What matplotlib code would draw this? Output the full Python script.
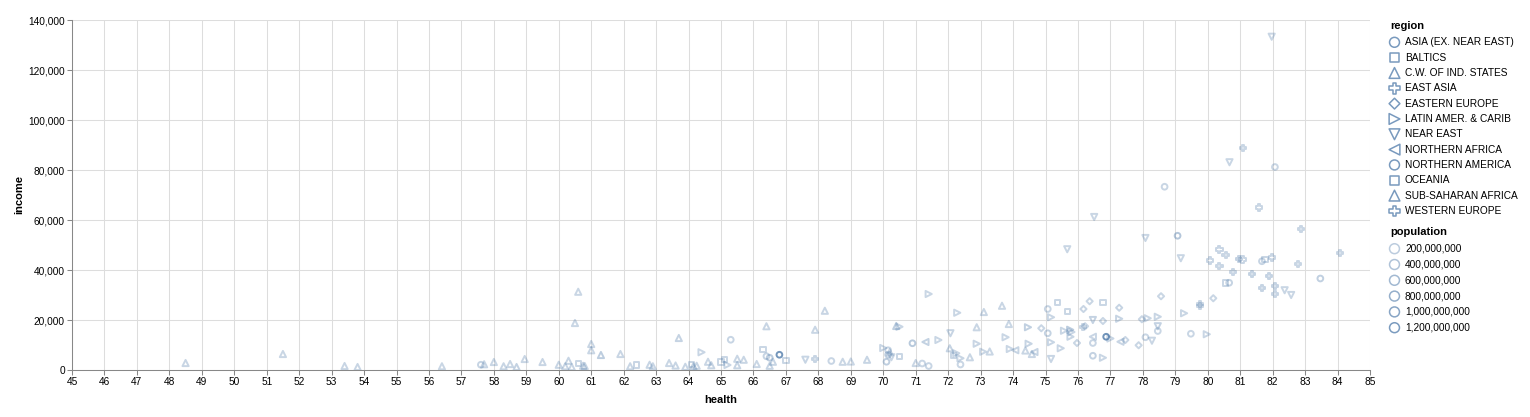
import numpy as np
import matplotlib.pyplot as plt
from matplotlib.ticker import MultipleLocator, FuncFormatter

plt.rcParams['font.family'] = ['Liberation Sans', 'DejaVu Sans']

# region names as they appear in the legend
region_names = ['ASIA (EX. NEAR EAST)', 'BALTICS', 'C.W. OF IND. STATES', 'EAST ASIA',
                'EASTERN EUROPE', 'LATIN AMER. & CARIB', 'NEAR EAST', 'NORTHERN AFRICA',
                'NORTHERN AMERICA', 'OCEANIA', 'SUB-SAHARAN AFRICA', 'WESTERN EUROPE']
region_shapes = ['o', 's', '^', 'P', 'D', '>', 'v', '<', 'o', 's', '^', 'P']
# marker area per shape, so that all shapes look about the same size
shape_size = {'o': 17, 's': 15, '^': 20, 'P': 20, 'D': 10, '>': 20, 'v': 20, '<': 20}

# short codes used in the data lists below
ASIA, BAL, CIS, EA, EE, LAT, NE, NAF, NAM, OCE, SSA, WE = region_names

# one entry per country: life expectancy, income per person, region, population (millions)
health = [48.5, 51.5, 53.4, 53.8, 56.4, 57.6, 57.7, 58.0, 58.3, 58.5,
          58.7, 58.95, 59.5, 60.0, 60.2, 60.3, 60.4, 60.5, 60.6, 60.6,
          60.75, 60.8, 61.0, 61.0, 61.3, 61.9, 62.2, 62.4, 62.8, 62.9,
          63.4, 63.6, 63.7, 63.9, 64.1, 64.15, 64.25, 64.4, 64.6, 64.7,
          65.0, 65.1, 65.2, 65.3, 65.5, 65.5, 65.7, 66.1, 66.3, 66.4,
          66.4, 66.5, 66.6, 66.5, 66.8, 67.0, 67.6, 67.9, 67.9, 68.2,
          68.4, 68.75, 69.0, 69.5, 70.0, 70.1, 70.15, 70.15, 70.2, 70.25,
          70.4, 70.5, 70.5, 70.9, 71.0, 71.2, 71.3, 71.4, 71.4, 71.7,
          72.05, 72.07, 72.17, 72.25, 72.28, 72.38, 72.38, 72.67, 72.88, 72.88,
          73.08, 73.1, 73.28, 73.66, 73.77, 73.87, 73.9, 74.07, 74.38, 74.46,
          74.48, 74.58, 74.66, 74.87, 75.07, 75.07, 75.17, 75.17, 75.17, 75.37,
          75.47, 75.57, 75.67, 75.67, 75.76, 75.77, 75.8, 75.97, 76.15, 76.17,
          76.22, 76.36, 76.46, 76.46, 76.46, 76.46, 76.5, 76.77, 76.77, 76.77,
          76.87, 77.0, 77.27, 77.27, 77.31, 77.46, 77.87, 77.97, 78.08, 78.08,
          78.15, 78.28, 78.46, 78.46, 78.46, 78.56, 78.67, 79.07, 79.17, 79.27,
          79.48, 79.77, 79.77, 79.97, 80.07, 80.17, 80.36, 80.36, 80.55, 80.55,
          80.66, 80.67, 80.77, 80.96, 81.07, 81.08, 81.37, 81.57, 81.67, 81.77,
          81.67, 81.88, 81.98, 81.97, 82.07, 82.07, 82.07, 82.37, 82.57, 82.78,
          82.87, 83.47, 84.07]

income = [2800, 6400, 1600, 1200, 1500, 2100, 2300, 3200, 1500, 2400,
          1200, 4400, 3200, 2100, 1500, 3700, 1200, 18800, 2700, 31300,
          1700, 1600, 10400, 7900, 6000, 6400, 1500, 2000, 2100, 1500,
          2800, 1800, 12800, 1300, 2300, 1500, 1700, 7100, 3300, 1900,
          3200, 4200, 2000, 12100, 4500, 1900, 4100, 2400, 8100, 17500,
          5500, 4900, 3300, 1700, 6100, 3700, 4100, 4400, 16100, 23700,
          3600, 3300, 3400, 4100, 8800, 3300, 6100, 7900, 7100, 5100,
          17600, 17300, 5300, 10700, 2800, 2600, 11200, 1600, 30400, 12000,
          8700, 14700, 5700, 6700, 22900, 4700, 2200, 5100, 10500, 17100,
          7300, 23200, 7400, 25700, 13100, 18400, 8400, 7900, 7800, 17100,
          10500, 6400, 7200, 16700, 24400, 14700, 21100, 11100, 4400, 26900,
          8700, 15700, 48300, 23500, 16100, 13300, 15200, 10800, 17300, 24400,
          17500, 27500, 20000, 13300, 10800, 5700, 61200, 27100, 19600, 4900,
          13300, 12600, 24900, 20500, 11300, 12000, 9900, 20300, 52800, 13100,
          20700, 11700, 21300, 17500, 15600, 29500, 73300, 53700, 44700, 22700,
          14500, 26500, 25600, 14300, 43800, 28700, 48200, 41600, 46100, 34800,
          34900, 83100, 39200, 44500, 44200, 88700, 38300, 65000, 43500, 44300,
          32900, 37600, 45000, 133300, 81200, 33500, 30500, 31900, 30000, 42400,
          56400, 36600, 46800]

region = [SSA, SSA, SSA, SSA, SSA, ASIA, SSA, SSA, SSA, SSA,
          SSA, SSA, SSA, SSA, SSA, SSA, SSA, SSA, OCE, SSA,
          SSA, SSA, SSA, SSA, SSA, SSA, SSA, OCE, SSA, SSA,
          SSA, SSA, SSA, SSA, OCE, SSA, SSA, LAT, SSA, SSA,
          OCE, OCE, LAT, ASIA, SSA, SSA, SSA, SSA, OCE, CIS,
          ASIA, ASIA, SSA, SSA, ASIA, OCE, NE, EA, CIS, CIS,
          ASIA, CIS, CIS, CIS, LAT, ASIA, ASIA, ASIA, CIS, NE,
          CIS, LAT, OCE, ASIA, CIS, ASIA, NAF, ASIA, LAT, LAT,
          CIS, NE, OCE, LAT, LAT, LAT, ASIA, CIS, LAT, CIS,
          LAT, CIS, CIS, CIS, LAT, CIS, LAT, NAF, CIS, LAT,
          LAT, CIS, NAF, EE, ASIA, ASIA, LAT, LAT, NE, BAL,
          LAT, LAT, NE, BAL, LAT, LAT, LAT, EE, EA, EE,
          EE, EE, NE, NAF, ASIA, ASIA, NE, BAL, EE, LAT,
          ASIA, LAT, EE, LAT, NAF, EE, EE, EE, NE, ASIA,
          LAT, NE, LAT, NE, ASIA, EE, ASIA, NAM, NE, LAT,
          ASIA, WE, WE, LAT, WE, EE, WE, WE, WE, OCE,
          ASIA, NE, WE, WE, WE, WE, WE, WE, NAM, OCE,
          WE, WE, WE, NE, ASIA, WE, WE, NE, NE, WE,
          WE, ASIA, WE]

population = [12, 6, 15, 18, 7, 33, 20, 14, 25, 10,
              77, 8, 12, 28, 15, 24, 11, 1, 7, 2,
              47, 28, 2, 5, 182, 3, 12, 17, 25, 20,
              10, 26, 55, 14, 1, 99, 11, 11, 5, 40,
              1, 1, 10, 30, 2, 51, 3, 6, 1, 18,
              53, 189, 27, 24, 1311, 1, 27, 25, 9, 17,
              15, 9, 6, 31, 11, 161, 101, 28, 4, 3,
              143, 3, 1, 258, 9, 7, 92, 30, 1, 10,
              45, 36, 1, 6, 1, 16, 6, 3, 11, 10,
              4, 3, 10, 10, 8, 3, 6, 34, 3, 127,
              48, 6, 40, 4, 30, 68, 3, 31, 18, 3,
              16, 4, 4, 2, 206, 31, 4, 7, 3, 20,
              9, 10, 79, 11, 21, 93, 4, 1, 7, 4,
              1376, 16, 38, 43, 11, 4, 4, 10, 9, 1,
              3, 8, 18, 79, 1, 10, 6, 321, 4, 4,
              2, 10, 11, 5, 9, 2, 17, 8, 6, 4,
              50, 9, 11, 81, 8, 1, 65, 5, 36, 24,
              46, 64, 10, 2, 7, 60, 11, 8, 1, 8,
              5, 127, 0.04]

pop_legend = [200, 400, 600, 800, 1000, 1200]

blue = np.array([76, 120, 168]) / 255.0
pop_max = max(population)


def opacity(p):
    # linear opacity scale from 0.3 to 0.8, zero based
    return 0.3 + 0.5 * p / pop_max


health = np.array(health)
income = np.array(income)
region = np.array(region)
population = np.array(population, dtype=float)

fig = plt.figure(figsize=(15.3, 4.17), dpi=100)
ax = fig.add_axes([72 / 1530, 47 / 417, 1298 / 1530, 350 / 417])

for name, shape in zip(region_names, region_shapes):
    m = region == name
    cols = [(blue[0], blue[1], blue[2], opacity(p)) for p in population[m]]
    ax.scatter(health[m], income[m], marker=shape, s=shape_size[shape], facecolors='none',
               edgecolors=cols, linewidths=1.4, zorder=3)

ax.set_xlim(45, 85)
ax.set_ylim(0, 140000)
ax.xaxis.set_major_locator(MultipleLocator(1))
ax.yaxis.set_major_locator(MultipleLocator(20000))
ax.yaxis.set_major_formatter(FuncFormatter(lambda v, p: '{:,.0f}'.format(v)))
ax.grid(True, color='#dddddd', linewidth=0.75)
ax.set_axisbelow(True)
for s in ['top', 'right']:
    ax.spines[s].set_visible(False)
for s in ['left', 'bottom']:
    ax.spines[s].set_color('#888888')
    ax.spines[s].set_linewidth(0.75)
ax.tick_params(length=3.6, width=0.75, color='#888888', pad=1.5, labelsize=7.3)

ax.set_xlabel('health', fontsize=8, fontweight='bold')
ax.set_ylabel('income', fontsize=8, fontweight='bold')
ax.xaxis.set_label_coords(0.5, -0.072)
ax.yaxis.set_label_coords(-0.037, 0.5)

# legends drawn in figure pixel coordinates
lax = fig.add_axes([0, 0, 1, 1])
lax.set_xlim(0, 1530)
lax.set_ylim(417, 0)
lax.axis('off')

lax.text(1390.5, 25.5, 'region', fontsize=8, fontweight='bold', va='center', ha='left')
for k, (name, shape) in enumerate(zip(region_names, region_shapes)):
    y = 42.3 + k * 15.33
    lax.scatter([1394.5], [y], marker=shape, s=shape_size[shape] * 3, facecolors='none',
                edgecolors=[(blue[0], blue[1], blue[2], 0.75)], linewidths=1.1)
    lax.text(1405, y, name, fontsize=7.3, va='center', ha='left')

lax.text(1390.5, 232, 'population', fontsize=8, fontweight='bold', va='center', ha='left')
for k, p in enumerate(pop_legend):
    y = 248.7 + k * 15.8
    lax.scatter([1394.5], [y], marker='o', s=51, facecolors='none',
                edgecolors=[(blue[0], blue[1], blue[2], opacity(p))], linewidths=1.1)
    lax.text(1405, y, '{:,}'.format(p * 1000000), fontsize=7.3, va='center', ha='left')

fig.savefig('out.png', dpi=100)
